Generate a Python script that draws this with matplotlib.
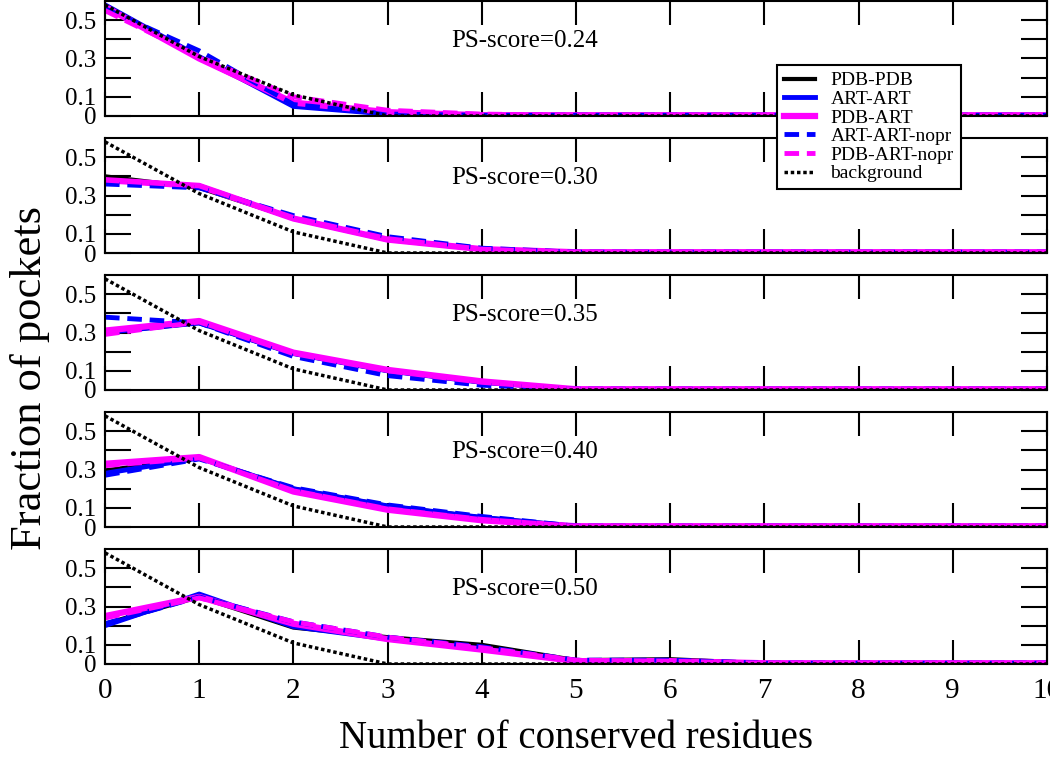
import matplotlib
matplotlib.use("Agg")
import matplotlib.pyplot as plt

#####################################
##############   DATA   #############
#####################################

X = list(range(11))
SCORES = ["0.24", "0.30", "0.35", "0.40", "0.50"]
SERIES_NAMES = ["PDB-PDB", "ART-ART", "PDB-ART",
                "ART-ART-nopr", "PDB-ART-nopr", "background"]

T = 0.004  # tail values, lines sit just above zero

PDB_PDB = [
    [0.57, 0.30, 0.06, 0.01, T, T, T, T, T, T, T],
    [0.40, 0.34, 0.18, 0.07, 0.02, T, T, T, T, T, T],
    [0.30, 0.35, 0.19, 0.10, 0.04, T, T, T, T, T, T],
    [0.295, 0.36, 0.20, 0.11, 0.05, T, T, T, T, T, T],
    [0.21, 0.35, 0.19, 0.14, 0.10, 0.02, 0.025, T, T, T, T],
]
ART_ART = [
    [0.58, 0.31, 0.05, 0.01, T, T, T, T, T, T, T],
    [0.38, 0.35, 0.18, 0.07, 0.02, T, T, T, T, T, T],
    [0.30, 0.35, 0.19, 0.10, 0.04, T, T, T, T, T, T],
    [0.28, 0.36, 0.20, 0.11, 0.05, T, T, T, T, T, T],
    [0.20, 0.365, 0.195, 0.13, 0.08, 0.015, 0.015, T, T, T, T],
]
PDB_ART = [
    [0.57, 0.30, 0.07, 0.02, T, T, T, T, T, T, T],
    [0.38, 0.35, 0.18, 0.07, 0.02, T, T, T, T, T, T],
    [0.31, 0.36, 0.195, 0.105, 0.045, T, T, T, T, T, T],
    [0.33, 0.365, 0.185, 0.09, 0.035, T, T, T, T, T, T],
    [0.25, 0.35, 0.21, 0.13, 0.075, 0.015, 0.015, T, T, T, T],
]
ART_ART_NOPR = [
    [0.56, 0.34, 0.06, 0.01, T, T, T, T, T, T, T],
    [0.36, 0.34, 0.195, 0.085, 0.025, T, T, T, T, T, T],
    [0.38, 0.35, 0.175, 0.075, 0.025, T, T, T, T, T, T],
    [0.27, 0.355, 0.205, 0.115, 0.055, T, T, T, T, T, T],
    [0.21, 0.35, 0.22, 0.14, 0.09, 0.02, 0.02, T, T, T, T],
]
PDB_ART_NOPR = [
    [0.55, 0.31, 0.10, 0.03, 0.01, T, T, T, T, T, T],
    [0.38, 0.35, 0.185, 0.075, 0.02, T, T, T, T, T, T],
    [0.29, 0.355, 0.19, 0.10, 0.04, T, T, T, T, T, T],
    [0.32, 0.36, 0.19, 0.095, 0.04, T, T, T, T, T, T],
    [0.24, 0.345, 0.22, 0.14, 0.085, 0.02, 0.015, T, T, T, T],
]
BACKGROUND = [0.58, 0.31, 0.11, 0.0, 0.0, 0.0, 0.0, 0.0, 0.0, 0.0, 0.0]

YTICKS = [0, 0.1, 0.2, 0.3, 0.4, 0.5]
YTICK_LABELS = ["0", "0.1", "", "0.3", "", "0.5"]

#####################################
##############   PLOT   #############
#####################################

plt.rcParams["font.family"] = ["Liberation Serif", "DejaVu Serif"]

fig = plt.figure(figsize=(10.5, 7.57), dpi=100)
W, H = 1050.0, 757.0

styles = [
    dict(color="black", lw=3, ls="-"),
    dict(color="#0000ff", lw=3.5, ls="-"),
    dict(color="#ff00ff", lw=4.5, ls="-"),
    dict(color="#0000ff", lw=3.5, ls=(0, (3, 1.6))),
    dict(color="#ff00ff", lw=3.5, ls=(0, (3, 1.6))),
    dict(color="black", lw=2.5, ls=(0, (1, 0.8))),
]

handles = []
for i, score in enumerate(SCORES):
    zero_px = 116 + 137 * i
    ax = fig.add_axes([105 / W, 1 - zero_px / H, 942 / W, 115 / H])
    rows = [PDB_PDB[i], ART_ART[i], PDB_ART[i],
            ART_ART_NOPR[i], PDB_ART_NOPR[i], BACKGROUND]
    lines = []
    for name, ys, st in zip(SERIES_NAMES, rows, styles):
        ln, = ax.plot(X, ys, label=name, **st)
        lines.append(ln)
    if i == 0:
        handles = lines

    ax.set_xlim(0, 10)
    ax.set_ylim(0, 0.6)
    ax.set_xticks(X)
    ax.set_yticks(YTICKS)
    ax.set_yticklabels(YTICK_LABELS)
    ax.tick_params(axis="x", direction="in", length=17, width=1.5,
                   top=True, bottom=True, labelsize=21, pad=10)
    ax.tick_params(axis="y", direction="in", length=19, width=1.5,
                   left=True, right=True, labelsize=18, pad=6)
    if i < len(SCORES) - 1:
        ax.set_xticklabels([])
    for sp in ax.spines.values():
        sp.set_linewidth(1.5)
    ax.text(3.68, 0.39, f"PS-score={score}", fontsize=18,
            ha="left", va="center")

leg = fig.legend(handles=handles, loc="upper left",
                 bbox_to_anchor=(777 / W, 1 - 65 / H),
                 fontsize=14, frameon=True, fancybox=False,
                 handlelength=1.6, handletextpad=0.8,
                 labelspacing=0.05, borderpad=0.35, borderaxespad=0)
leg.get_frame().set_edgecolor("black")
leg.get_frame().set_linewidth(1.5)
leg.get_frame().set_alpha(1)

fig.text(30 / W, 0.5, "Fraction of pockets", rotation=90,
         fontsize=32, ha="center", va="center")
fig.text(576 / W, 1 - 738 / H, "Number of conserved residues",
         fontsize=28, ha="center", va="center")

plt.savefig("out.png", dpi=100)
